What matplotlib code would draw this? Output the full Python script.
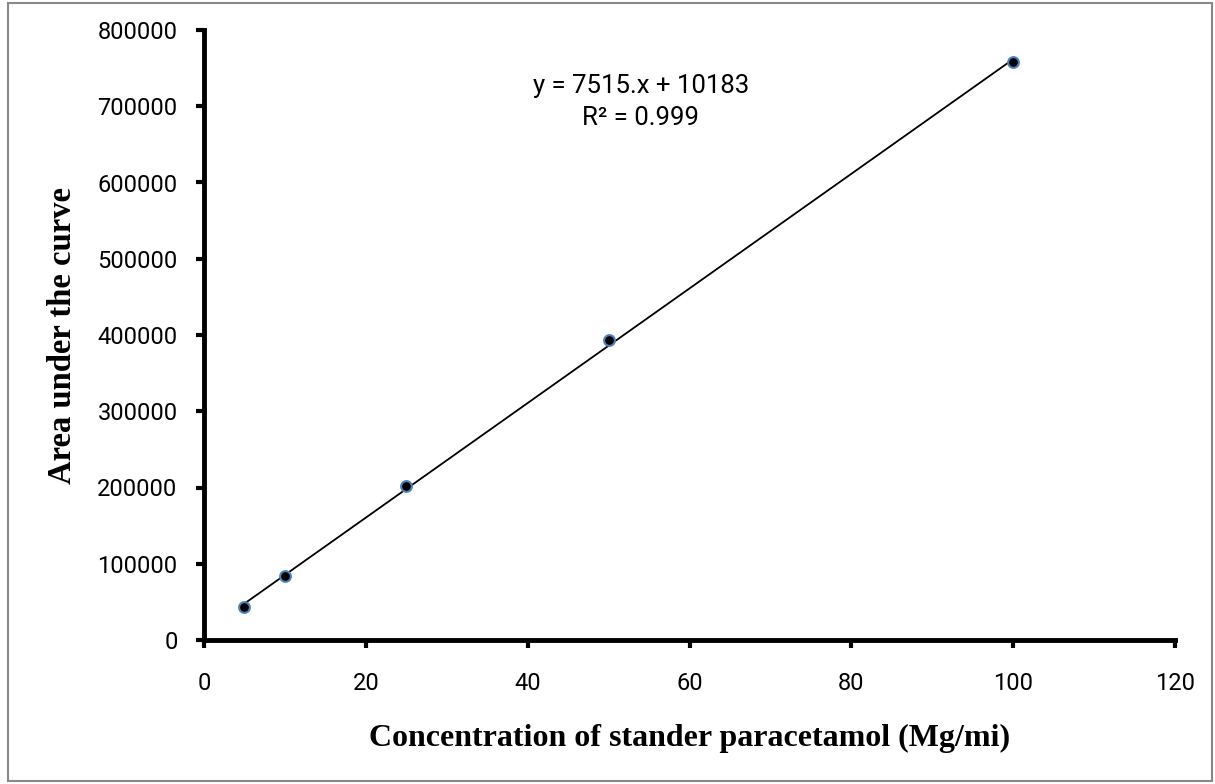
import matplotlib
matplotlib.use("Agg")
import matplotlib.pyplot as plt
from matplotlib.patches import Rectangle

conc = [5, 10, 25, 50, 100]
area = [43000, 83500, 201500, 393500, 757500]
slope = 7515
intercept = 10183
eq_text = "y = 7515.x + 10183\nR² = 0.999"
xticks = [0, 20, 40, 60, 80, 100, 120]
yticks = [0, 100000, 200000, 300000, 400000, 500000, 600000, 700000, 800000]

fig = plt.figure(figsize=(12.15, 7.84), dpi=100)
ax = fig.add_axes([204/1215, 1-640/784, (1175-204)/1215, (640-30)/784])

fit_x = [conc[0], conc[-1]]
fit_y = [slope*v + intercept for v in fit_x]
ax.plot(fit_x, fit_y, color="black", lw=1.3, zorder=2)
ax.scatter(conc, area, s=60, color="black", edgecolors="#4F81BD", linewidths=1.5, zorder=3)

ax.set_xlim(0, 120)
ax.set_ylim(0, 800000)
ax.set_xticks(xticks)
ax.set_yticks(yticks)
ax.set_xticklabels([str(t) for t in xticks], fontfamily="Roboto", fontsize=17)
ax.set_yticklabels([str(t) for t in yticks], fontfamily="Roboto", fontsize=17)
for s in ["top", "right"]:
    ax.spines[s].set_visible(False)
for s in ["left", "bottom"]:
    ax.spines[s].set_linewidth(3.5)
ax.tick_params(axis="both", direction="out", length=6, width=3, colors="black")
ax.tick_params(axis="x", pad=17)
ax.tick_params(axis="y", pad=13)

ax.set_xlabel("Concentration of stander paracetamol (Mg/mi)", fontfamily="Liberation Serif",
              fontweight="bold", fontsize=23)
ax.set_ylabel("Area under the curve", fontfamily="Liberation Serif",
              fontweight="bold", fontsize=23.5)
ax.xaxis.set_label_coords(0.5, -0.138)
ax.yaxis.set_label_coords(-0.13, 0.5)

ax.text(0.45, 0.928, eq_text, transform=ax.transAxes, ha="center", va="top",
        fontfamily="Roboto", fontsize=18.5, linespacing=1.45)

fig.patches.append(Rectangle((8/1215, 3/784), 1204/1215, 778/784, transform=fig.transFigure,
                             fill=False, edgecolor="#888888", lw=1.5))

fig.savefig("out.png", dpi=100)
